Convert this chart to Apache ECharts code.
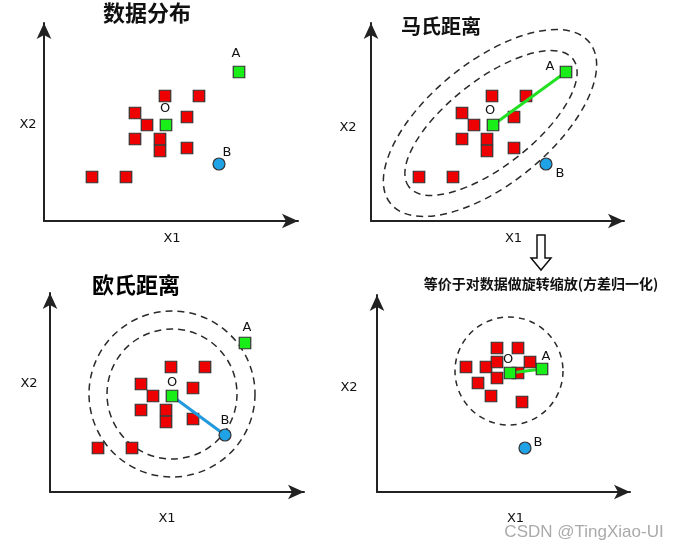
<!DOCTYPE html>
<html><head><meta charset="utf-8">
<script src="https://cdn.jsdelivr.net/npm/echarts@6/dist/echarts.min.js"></script>
<style>html,body{margin:0;padding:0;background:#fff}#c{width:680px;height:547px}</style>
</head><body><div id="c"></div>
<script>
// ---- data (axis units: 1 unit = 1 px of each panel's axis) ----
const clusterPts = [[121,125],[155,125],[91,108],[103,96],[143,104],[91,82],[116,82],[116,70],[143,73],[48,44],[82,44]];
const pointO = [122,96];
const pointA = [195,149];
const pointB = [175,57];
const clusterPts4 = [[120,144],[141,144],[89,125],[109,125],[120,130],[153,130],[141,119],[101,109],[120,114],[114,96],[145,90]];
const pointO4 = [133,119];
const pointA4 = [165,123];
const pointB4 = [148,44];
// ellipse: cx, cy, semi-major, semi-minor, angle(deg)
const mahalEllipses = [[119,98,128,61,39],[120,98,104,43,38]];
// circle: cx, cy, radius
const euclidCircles = [[122,98,83],[122,98,65]];
const normCircles = [[132,121,54]];
const panelTitles = ['数据分布','马氏距离','欧氏距离','等价于对数据做旋转缩放(方差归一化)'];
const axisNames = ['X1','X2'];
const pointNames = ['O','A','B'];
const watermark = 'CSDN @TingXiao-UI';

// ---- styling / layout ----
const RED='#ee0000', GREEN='#19ee19', BLUE='#1fa3e6', EDGE='#333';
const grids = [
  {left:44, top:23, width:254, height:198},
  {left:371, top:23, width:253, height:198},
  {left:50, top:293, width:254, height:199},
  {left:377, top:295, width:253, height:197}
];
const x1Gap=[11,11,20,20];
const x1Pad=[[0,0,0,2],[0,0,0,32],[0,20,0,0],[0,0,0,24]];
const x2Pos=[[28,125],[348,128],[29,384],[349,388]];
const nameStyle = {fontFamily:'DejaVu Sans', fontSize:13, color:'#111'};
const lineAxis = {show:true, onZero:false, symbol:['none','arrow'], symbolSize:[11,16], lineStyle:{color:'#222', width:2}};

const xAxis = grids.map((g,i)=>({gridIndex:i,type:'value',min:0,max:g.width,name:axisNames[0],nameLocation:'middle',nameGap:x1Gap[i],nameTextStyle:Object.assign({padding:x1Pad[i]},nameStyle),axisLine:lineAxis,axisTick:{show:false},axisLabel:{show:false},splitLine:{show:false}}));
const yAxis = grids.map((g,i)=>({gridIndex:i,type:'value',min:0,max:g.height,axisLine:lineAxis,axisTick:{show:false},axisLabel:{show:false},splitLine:{show:false}}));

const labelStyle = {show:true, position:'inside', fontFamily:'DejaVu Sans', fontSize:13, color:'#111'};
function sq(idx, pts){
  return {type:'scatter', xAxisIndex:idx, yAxisIndex:idx, symbol:'rect', symbolSize:11.5, silent:true,
    itemStyle:{color:RED, borderColor:EDGE, borderWidth:1.2, opacity:1}, data:pts, z:3};
}
function special(idx, O, A, B, offs){
  return {type:'scatter', xAxisIndex:idx, yAxisIndex:idx, silent:true, z:5,
    itemStyle:{borderColor:EDGE, borderWidth:1.2, opacity:1},
    data:[
      {value:O, symbol:'rect', symbolSize:11.5, itemStyle:{color:GREEN}, label:Object.assign({},labelStyle,{formatter:pointNames[0], offset:offs[0]})},
      {value:A, symbol:'rect', symbolSize:11.5, itemStyle:{color:GREEN}, label:Object.assign({},labelStyle,{formatter:pointNames[1], offset:offs[1]})},
      {value:B, symbol:'circle', symbolSize:12, itemStyle:{color:BLUE}, label:Object.assign({},labelStyle,{formatter:pointNames[2], offset:offs[2]})}
    ]};
}
function seg(idx, P, Q, color){
  return {type:'line', xAxisIndex:idx, yAxisIndex:idx, data:[P,Q], showSymbol:false, silent:true, z:4,
    lineStyle:{color:color, width:3}};
}
const dashStyle = {fill:'none', stroke:'#2a2a2a', lineWidth:1.5, lineDash:[7,5]};
function ellipses(idx, data){
  return {type:'custom', xAxisIndex:idx, yAxisIndex:idx, silent:true, z:2, data:data,
    renderItem:(p,api)=>{
      const c = api.coord([api.value(0), api.value(1)]);
      const s = api.size([api.value(2), api.value(3)]);
      return {type:'ellipse', x:c[0], y:c[1], rotation:api.value(4)*Math.PI/180,
        shape:{cx:0, cy:0, rx:s[0], ry:s[0]*api.value(3)/api.value(2)}, style:dashStyle};
    }};
}
function circles(idx, data, dash){
  return {type:'custom', xAxisIndex:idx, yAxisIndex:idx, silent:true, z:2, data:data,
    renderItem:(p,api)=>{
      const c = api.coord([api.value(0), api.value(1)]);
      const s = api.size([api.value(2), api.value(2)]);
      return {type:'circle', shape:{cx:c[0], cy:c[1], r:s[0]}, style:Object.assign({},dashStyle,{lineDash:dash})};
    }};
}

const series = [
  sq(0, clusterPts),
  special(0, pointO, pointA, pointB, [[-1,-16],[-3,-18],[8,-11]]),
  ellipses(1, mahalEllipses),
  sq(1, clusterPts),
  seg(1, pointO, pointA, '#22e022'),
  special(1, pointO, pointA, pointB, [[-3,-14],[-16,-5],[14,10]]),
  circles(2, euclidCircles, [7,5]),
  sq(2, clusterPts),
  seg(2, pointO, pointB, '#2399dd'),
  special(2, pointO, pointA, pointB, [[0,-13],[2,-15],[0,-14]]),
  circles(3, normCircles, [6,5]),
  sq(3, clusterPts4),
  seg(3, pointO4, pointA4, '#22e022'),
  special(3, pointO4, pointA4, pointB4, [[-2,-13],[4,-12],[13,-5]])
];

const titleFont = '"Noto Sans CJK SC", sans-serif';
const graphic = [
  {type:'text', x:147, y:13, style:{text:panelTitles[0], font:'bold 22px '+titleFont, fill:'#111', align:'center', verticalAlign:'middle'}},
  {type:'text', x:441, y:26, style:{text:panelTitles[1], font:'bold 20px '+titleFont, fill:'#111', align:'center', verticalAlign:'middle'}},
  {type:'text', x:136, y:285, style:{text:panelTitles[2], font:'bold 22px '+titleFont, fill:'#000', align:'center', verticalAlign:'middle'}},
  {type:'text', x:541, y:284, style:{text:panelTitles[3], font:'bold 14px '+titleFont, fill:'#111', align:'center', verticalAlign:'middle'}},
  {type:'polygon', shape:{points:[[537,235],[545,235],[545,258],[551,258],[541,270],[531,258],[537,258]]}, style:{fill:'#fff', stroke:'#111', lineWidth:1.5}},
  {type:'text', x:584, y:532, z:100, style:{text:watermark, font:'17px "Liberation Sans", sans-serif', fill:'#aaaaaa', align:'center', verticalAlign:'middle'}}
].concat(x2Pos.map(p=>({type:'text', x:p[0], y:p[1], style:{text:axisNames[1], font:'13px "DejaVu Sans"', fill:'#111', align:'center', verticalAlign:'middle'}})));

const chart = echarts.init(document.getElementById('c'), null, {renderer:'canvas'});
chart.setOption({
  backgroundColor:'#fff',
  animation:false,
  grid: grids.map(g=>Object.assign({outerBoundsMode:'none', containLabel:false}, g)),
  xAxis, yAxis, series, graphic
});
</script></body></html>
